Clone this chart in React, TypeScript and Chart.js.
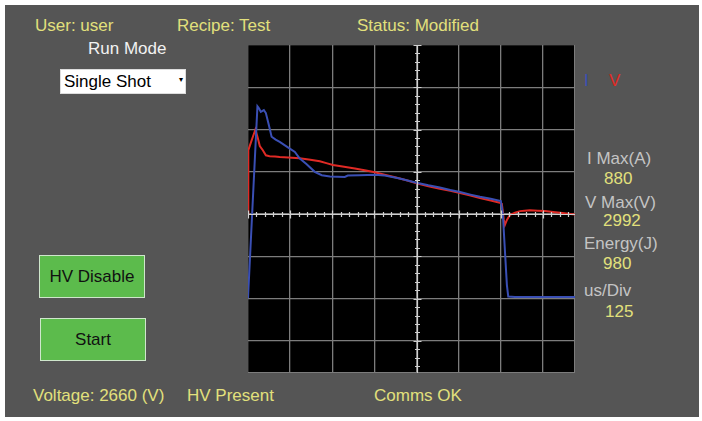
import React, { useEffect, useRef } from "react";
import { Chart, registerables } from "chart.js";

Chart.register(...registerables);

// time in microseconds (125 us/div), amplitude in screen divisions
const vTime = [-500, -499, -489, -478, -471, -465, -456, -447, -436, -420, -406, -380, -347, -320, -287, -265, -248, -215, -183, -150, -124, -95, -64, -30, 0, 35, 69, 100, 129, 160, 188, 220, 247, 253, 259, 262, 268, 277, 292, 307, 320, 336, 360, 381, 405, 426, 450, 470];
const vTrace = [0, 1.51, 1.75, 2.0, 1.8, 1.61, 1.51, 1.39, 1.37, 1.36, 1.35, 1.34, 1.32, 1.29, 1.25, 1.2, 1.16, 1.12, 1.08, 1.03, 0.99, 0.93, 0.87, 0.8, 0.73, 0.66, 0.6, 0.55, 0.5, 0.44, 0.38, 0.32, 0.27, 0.24, -0.14, -0.26, -0.14, -0.02, 0.035, 0.07, 0.08, 0.09, 0.08, 0.07, 0.05, 0.03, 0.01, -0.01];

const iTime = [-500, -472, -468, -462, -453, -447, -438, -430, -418, -406, -376, -361, -347, -326, -302, -281, -257, -213, -204, -168, -124, -94, -50, 0, 35, 69, 100, 129, 160, 188, 220, 250, 256, 262, 268, 272, 292, 350, 420, 470];
const iTrace = [-1.99, 2.55, 2.51, 2.42, 2.46, 2.39, 2.1, 1.83, 1.76, 1.71, 1.55, 1.47, 1.32, 1.18, 1.0, 0.92, 0.89, 0.88, 0.91, 0.92, 0.93, 0.91, 0.84, 0.74, 0.68, 0.63, 0.57, 0.52, 0.46, 0.41, 0.36, 0.31, 0, -0.85, -1.68, -1.95, -1.96, -1.96, -1.96, -1.96];

const xMin = -500;
const xMax = 470;
const xStep = 125;
const yMin = -3.76;
const yMax = 4;
const yStep = 1;

const legendItems = ["I", "V"];
const readoutLabels = ["I Max(A)", "V Max(V)", "Energy(J)", "us/Div"];
const readoutValues = ["880", "2992", "980", "125"];

const YELLOW = "#e2e07c";
const GRAY_TXT = "#c4c4c4";
const BLUE = "#3a4fb4";
const RED = "#e02a25";
const FONT = '"Liberation Sans", Arial, Helvetica, sans-serif';

const crosshairPlugin = {
  id: "crosshair",
  afterDraw(chart: any) {
    const { ctx, chartArea, scales } = chart;
    const sx = scales.x;
    const sy = scales.y;
    const cx = Math.round(sx.getPixelForValue(0)) + 0.5;
    const cy = Math.round(sy.getPixelForValue(0)) + 0.5;
    ctx.save();
    ctx.strokeStyle = "#cfcfcf";
    ctx.lineWidth = 1.2;
    ctx.beginPath();
    ctx.moveTo(chartArea.left, cy);
    ctx.lineTo(chartArea.right, cy);
    ctx.moveTo(cx, chartArea.top);
    ctx.lineTo(cx, chartArea.bottom);
    for (let k = -25; k <= 25; k++) {
      const v = (k * xStep) / 5;
      if (v < xMin || v > xMax) continue;
      const px = Math.round(sx.getPixelForValue(v)) + 0.5;
      const len = k % 5 === 0 ? 4 : 2.5;
      ctx.moveTo(px, cy - len);
      ctx.lineTo(px, cy + len);
    }
    for (let k = -25; k <= 25; k++) {
      const v = (k * yStep) / 5;
      if (v < yMin || v > yMax) continue;
      const py = Math.round(sy.getPixelForValue(v)) + 0.5;
      const len = k % 5 === 0 ? 4 : 2.5;
      ctx.moveTo(cx - len, py);
      ctx.lineTo(cx + len, py);
    }
    ctx.stroke();
    ctx.restore();
  },
};

function Scope() {
  const ref = useRef<HTMLCanvasElement>(null);
  useEffect(() => {
    if (!ref.current) return;
    const chart = new Chart(ref.current, {
      type: "line",
      data: {
        datasets: [
          {
            label: "I",
            data: iTime.map((t, i) => ({ x: t, y: iTrace[i] })),
            borderColor: BLUE,
            borderWidth: 2,
            pointRadius: 0,
            tension: 0,
          },
          {
            label: "V",
            data: vTime.map((t, i) => ({ x: t, y: vTrace[i] })),
            borderColor: RED,
            borderWidth: 2,
            pointRadius: 0,
            tension: 0,
          },
        ],
      },
      options: {
        animation: false,
        responsive: false,
        maintainAspectRatio: false,
        layout: { padding: 0 },
        plugins: { legend: { display: false }, tooltip: { enabled: false } },
        scales: {
          x: {
            type: "linear",
            min: xMin,
            max: xMax,
            ticks: { display: false, stepSize: xStep },
            grid: { color: "#7c7c7c", lineWidth: 1.3, drawTicks: false },
            border: { display: false },
          },
          y: {
            type: "linear",
            min: yMin,
            max: yMax,
            ticks: { display: false, stepSize: yStep },
            grid: { color: "#7c7c7c", lineWidth: 1.3, drawTicks: false },
            border: { display: false },
          },
        },
      },
      plugins: [crosshairPlugin],
    } as any);
    return () => chart.destroy();
  }, []);
  return (
    <canvas
      ref={ref}
      width={327}
      height={328}
      style={{ position: "absolute", left: 248, top: 45, width: 327, height: 328, background: "#000" }}
    />
  );
}

function Label(props: { x: number; y: number; text: string; color: string; size?: number }) {
  return (
    <div
      style={{
        position: "absolute",
        left: props.x,
        top: props.y,
        transform: "translateY(-50%)",
        color: props.color,
        fontFamily: FONT,
        fontSize: props.size ?? 17,
        lineHeight: 1,
        whiteSpace: "nowrap",
      }}
    >
      {props.text}
    </div>
  );
}

function Button(props: { x: number; y: number; w: number; h: number; text: string }) {
  return (
    <div
      style={{
        position: "absolute",
        left: props.x,
        top: props.y,
        width: props.w,
        height: props.h,
        boxSizing: "border-box",
        background: "#5cbb4c",
        border: "1.5px solid #cfe6cc",
        display: "flex",
        alignItems: "center",
        justifyContent: "center",
        fontFamily: FONT,
        fontSize: 17,
        color: "#111",
      }}
    >
      {props.text}
    </div>
  );
}

export default function App() {
  const readY = [158, 202, 243, 290];
  const valY = [177.5, 220, 263, 311];
  const readX = [587, 585, 584, 584];
  const valX = [604, 603, 603, 605];
  return (
    <div style={{ position: "fixed", left: 0, top: 0, width: 702, height: 421, background: "#fff", overflow: "hidden" }}>
      <div style={{ position: "absolute", left: 5, top: 5, width: 694, height: 412, background: "#555555" }} />
      <Label x={35} y={25} text="User: user" color={YELLOW} />
      <Label x={177} y={25} text="Recipe: Test" color={YELLOW} />
      <Label x={357} y={25} text="Status: Modified" color={YELLOW} />
      <Label x={88} y={48} text="Run Mode" color="#f2f2f2" />
      <div
        style={{
          position: "absolute",
          left: 60,
          top: 69,
          width: 126,
          height: 25,
          boxSizing: "border-box",
          background: "#fff",
          border: "1px solid #ddd",
          fontFamily: FONT,
          fontSize: 17,
          color: "#000",
        }}
      >
        <span style={{ position: "absolute", left: 3, top: 3, lineHeight: "18px" }}>Single Shot</span>
        <span style={{ position: "absolute", left: 118, top: 6, fontSize: 8, lineHeight: "8px" }}>▾</span>
      </div>
      <Scope />
      <Label x={584} y={80} text={legendItems[0]} color={BLUE} />
      <Label x={609} y={80} text={legendItems[1]} color={RED} />
      {readoutLabels.map((t, i) => (
        <React.Fragment key={t}>
          <Label x={readX[i]} y={readY[i]} text={t} color={GRAY_TXT} />
          <Label x={valX[i]} y={valY[i]} text={readoutValues[i]} color={YELLOW} />
        </React.Fragment>
      ))}
      <Button x={39} y={255} w={106} h={43} text="HV Disable" />
      <Button x={40} y={318} w={106} h={43} text="Start" />
      <Label x={33} y={395} text="Voltage: 2660 (V)" color={YELLOW} />
      <Label x={187} y={395} text="HV Present" color={YELLOW} />
      <Label x={374} y={395} text="Comms OK" color={YELLOW} />
    </div>
  );
}
